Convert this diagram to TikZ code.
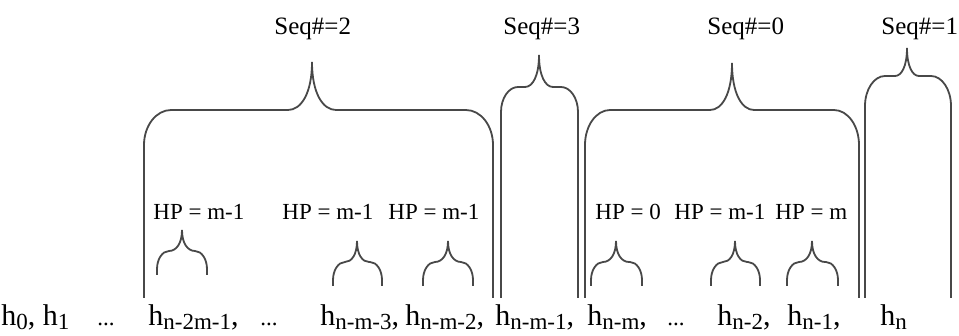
\documentclass[tikz,border=0pt]{standalone}
\usepackage{fontspec}
\setmainfont{Liberation Serif}
\usepackage{tikz}
\usetikzlibrary{positioning}
\definecolor{braceline}{RGB}{72,72,72}
% brace: left x, peak x, right x, bottom y, shoulder y, peak y, corner x, corner y, peak half width
\newcommand{\seqbrace}[9]{%
  \draw[brace] ({#1},{#4}) -- ({#1},{#5+#8})
    .. controls ({#1},{#5+0.45*#8}) and ({#1+0.45*#7},{#5}) .. ({#1+#7},{#5})
    -- ({#2-#9},{#5}) .. controls ({#2-0.45*#9},{#5}) and ({#2},{#5-0.35*(#5-#6)}) .. ({#2},{#6})
    .. controls ({#2},{#5-0.35*(#5-#6)}) and ({#2+0.45*#9},{#5}) .. ({#2+#9},{#5})
    -- ({#3-#7},{#5}) .. controls ({#3-0.45*#7},{#5}) and ({#3},{#5+0.45*#8}) .. ({#3},{#5+#8})
    -- ({#3},{#4});}
\newcommand{\hsub}[1]{h\raisebox{-2pt}{\fontsize{11.5}{12}\selectfont #1}}

\begin{document}
\begin{tikzpicture}[
    x=0.5pt, y=-0.5pt,
    brace/.style={draw=braceline, line width=0.9pt},
    seqlabel/.style={anchor=base west, inner sep=0pt, font=\fontsize{12.5}{14}\selectfont},
    hplabel/.style={anchor=base west, inner sep=0pt, font=\fontsize{11.5}{13}\selectfont},
    hlabel/.style={anchor=base west, inner sep=0pt, font=\fontsize{15}{17}\selectfont},
    dotlabel/.style={anchor=base west, inner sep=0pt, font=\fontsize{11.5}{13}\selectfont}
]
\useasboundingbox (0,0) rectangle (959,336);

% Big braces
\seqbrace{144}{312}{493}{298}{110}{62}{27}{35}{24}
\seqbrace{501}{539}{578}{298}{87}{55}{17}{25}{14}
\seqbrace{585}{732}{859}{298}{110}{63}{25}{35}{22}
\seqbrace{865}{907}{951}{298}{76}{48}{20}{30}{12}

% Small braces
\seqbrace{157}{182}{207}{275}{251}{230}{12}{18}{13}
\seqbrace{333}{357}{382}{286}{262}{241}{12}{18}{12}
\seqbrace{423}{448}{473}{286}{262}{241}{12}{18}{13}
\seqbrace{591}{616}{642}{286}{262}{241}{12}{18}{13}
\seqbrace{711}{735}{760}{286}{262}{241}{12}{18}{12}
\seqbrace{787}{812}{838}{286}{262}{241}{12}{18}{13}

% Sequence labels
\node[seqlabel] (seq2) at (274,35) {Seq\#=2};
\node[seqlabel] (seq3) at (503,35) {Seq\#=3};
\node[seqlabel] (seq0) at (707,35) {Seq\#=0};
\node[seqlabel] (seq1) at (881,35) {Seq\#=1};

% HP labels
\node[hplabel] (hpa) at (153,220) {HP = m-1};
\node[hplabel] (hpb) at (282,220) {HP = m-1};
\node[hplabel] (hpc) at (388,220) {HP = m-1};
\node[hplabel] (hpd) at (595,220) {HP = 0};
\node[hplabel] (hpe) at (674,220) {HP = m-1};
\node[hplabel] (hpf) at (775,220) {HP = m};

% Hash values
\node[hlabel] (hzero) at (1,326) {\hsub{0}, \hsub{1}};
\node[dotlabel] (dotsa) at (97,326) {...};
\node[hlabel] (hnbm) at (148,326) {\hsub{n-2m-1},};
\node[dotlabel] (dotsb) at (260,326) {...};
\node[hlabel] (hnmc) at (320,326) {\hsub{n-m-3},};
\node[hlabel] (hnmb) at (405,326) {\hsub{n-m-2},};
\node[hlabel] (hnma) at (495,326) {\hsub{n-m-1},};
\node[hlabel] (hnm) at (587,326) {\hsub{n-m},};
\node[dotlabel] (dotsc) at (667,326) {...};
\node[hlabel] (hnb) at (717,326) {\hsub{n-2},};
\node[hlabel] (hna) at (787,326) {\hsub{n-1},};
\node[hlabel] (hn) at (880,326) {\hsub{n}};
\end{tikzpicture}
\end{document}
